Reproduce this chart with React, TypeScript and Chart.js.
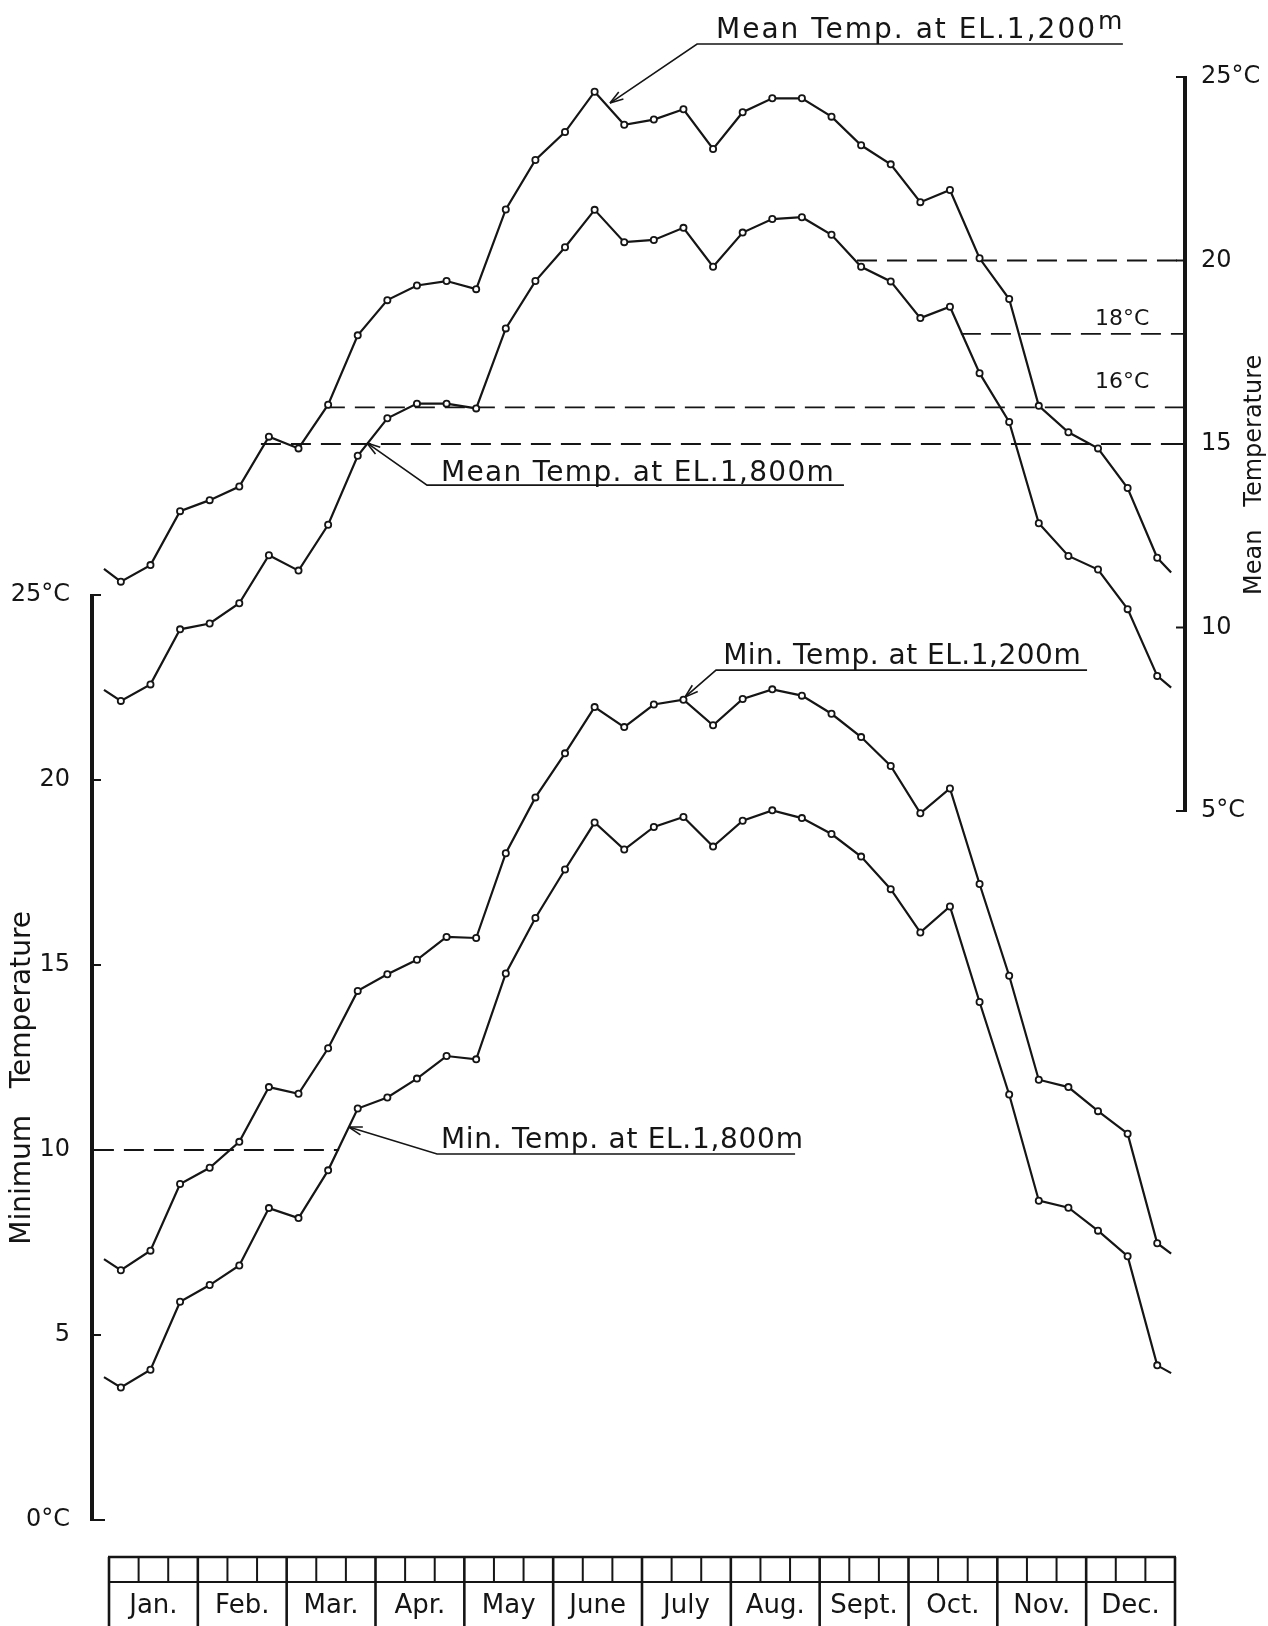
import React, { useEffect, useRef } from 'react';
import { Chart, registerables } from 'chart.js';

Chart.register(...registerables);

// ---------- data ----------
const MONTHS = ['Jan.', 'Feb.', 'Mar.', 'Apr.', 'May', 'June', 'July', 'Aug.', 'Sept.', 'Oct.', 'Nov.', 'Dec.'];

// 36 dekad (10-day) values, Jan. 1st dekad ... Dec. 3rd dekad
const MEAN_1200 = [
  11.25, 11.7, 13.17, 13.47, 13.84, 15.2, 14.88, 16.07, 17.96, 18.92, 19.32, 19.44,
  19.22, 21.39, 22.74, 23.5, 24.6, 23.7, 23.84, 24.12, 23.04, 24.04, 24.42, 24.42,
  23.92, 23.14, 22.62, 21.59, 21.92, 20.06, 18.95, 16.04, 15.32, 14.88, 13.8, 11.9,
];
const MEAN_1800 = [
  8.0, 8.45, 9.95, 10.11, 10.66, 11.97, 11.55, 12.8, 14.68, 15.7, 16.1, 16.1,
  15.97, 18.15, 19.44, 20.36, 21.38, 20.5, 20.56, 20.89, 19.83, 20.76, 21.13, 21.18,
  20.7, 19.83, 19.43, 18.43, 18.74, 16.93, 15.6, 12.84, 11.95, 11.58, 10.5, 8.68,
];
const MIN_1200 = [
  6.75, 7.28, 9.08, 9.52, 10.22, 11.7, 11.52, 12.75, 14.3, 14.75, 15.14, 15.76,
  15.73, 18.02, 19.53, 20.72, 21.97, 21.43, 22.04, 22.17, 21.48, 22.19, 22.45, 22.28,
  21.79, 21.16, 20.38, 19.1, 19.77, 17.19, 14.71, 11.9, 11.7, 11.05, 10.44, 7.48,
];
const MIN_1800 = [
  3.58, 4.06, 5.9, 6.35, 6.88, 8.43, 8.16, 9.45, 11.12, 11.42, 11.93, 12.54,
  12.45, 14.77, 16.27, 17.58, 18.85, 18.12, 18.73, 19.0, 18.2, 18.9, 19.18, 18.97,
  18.54, 17.93, 17.05, 15.88, 16.58, 14.0, 11.5, 8.63, 8.44, 7.82, 7.13, 4.18,
];
// continuation stubs (previous Dec. / following Jan.) : [start, end]
const MEAN_1200_EDGES = [11.6, 11.5];
const MEAN_1800_EDGES = [8.3, 8.36];
const MIN_1200_EDGES = [7.05, 7.2];
const MIN_1800_EDGES = [3.86, 3.97];
const STUB_X = [-0.17, 35.87];

const MIN_TICKS = [0, 5, 10, 15, 20, 25];
const MEAN_TICKS = [5, 10, 15, 20, 25];

// dashed reference levels (mean axis) and the dekad where each dashed line starts
const MEAN_REF_LEVELS = [20, 18, 16, 15];
const MEAN_REF_FROM = [25.26, 28.77, 7.29, 5.13];
const MIN_REF_LEVEL = 10;
const MIN_REF_SPAN = [-0.51, 7.77];

// ---------- layout ----------
const W = 1268;
const H = 1626;
const CHART_LEFT = 92;
const CHART_RIGHT = 1185;
const CHART_TOP = 77;
const CHART_BOTTOM = 1520;
const TABLE_LEFT = 109;
const PX_PER_DEKAD = 29.611;
const X_MIN = (CHART_LEFT - TABLE_LEFT) / PX_PER_DEKAD;
const X_MAX = 36 + (CHART_RIGHT - (TABLE_LEFT + 36 * PX_PER_DEKAD)) / PX_PER_DEKAD;
const MIN_PX_PER_DEG = 37.0;
const MEAN_PX_PER_DEG = 36.7;
const Y_MIN_MAX = (CHART_BOTTOM - CHART_TOP) / MIN_PX_PER_DEG;
const Y_MEAN_MIN = 25 - (CHART_BOTTOM - CHART_TOP) / MEAN_PX_PER_DEG;

const INK = '#151515';
const FONT = '"DejaVu Sans", "Liberation Sans", sans-serif';

const ANNOTATIONS = [
  { text: 'Mean Temp. at EL.1,200', sup: 'm', spacing: 2, axis: 'yMean', tx: 20.5, ty: 26.06, ux0: 19.86, ux1: 34.24, uy: 25.9, px: 16.92, py: 24.29 },
  { text: 'Mean Temp. at EL.1,800m', sup: '', spacing: 1.3, axis: 'yMean', tx: 11.21, ty: 13.99, ux0: 10.74, ux1: 24.82, uy: 13.88, px: 8.71, py: 15.03 },
  { text: 'Min. Temp. at EL.1,200m', sup: '', spacing: 0.5, axis: 'yMin', tx: 20.74, ty: 23.14, ux0: 20.5, ux1: 33.03, uy: 22.97, px: 19.45, py: 22.24 },
  { text: 'Min. Temp. at EL.1,800m', sup: '', spacing: 0.7, axis: 'yMin', tx: 11.21, ty: 10.05, ux0: 11.08, ux1: 23.17, uy: 9.89, px: 8.1, py: 10.62 },
];
const LEVEL_LABELS = [
  { text: '18°C', x: 33.3, y: 18.24 },
  { text: '16°C', x: 33.3, y: 16.53 },
];

function buildSeries(vals: number[], edges: number[]) {
  return [
    { x: STUB_X[0], y: edges[0] },
    ...vals.map((v, i) => ({ x: i + 0.4, y: v })),
    { x: STUB_X[1], y: edges[1] },
  ];
}

function seriesDataset(vals: number[], edges: number[], yAxisID: string) {
  const last = vals.length + 1;
  return {
    data: buildSeries(vals, edges),
    yAxisID,
    borderColor: INK,
    borderWidth: 2.2,
    tension: 0,
    pointRadius: (c: any) => (c.dataIndex === 0 || c.dataIndex === last ? 0 : 3.1),
    pointHoverRadius: 0,
    pointBackgroundColor: '#ffffff',
    pointBorderColor: INK,
    pointBorderWidth: 1.8,
  };
}

function dashed(x0: number, x1: number, level: number, yAxisID: string) {
  return {
    data: [{ x: x0, y: level }, { x: x1, y: level }],
    yAxisID,
    borderColor: INK,
    borderWidth: 1.8,
    borderDash: [20, 10],
    pointRadius: 0,
    pointHoverRadius: 0,
  };
}

function strokeLine(ctx: CanvasRenderingContext2D, x0: number, y0: number, x1: number, y1: number) {
  ctx.beginPath();
  ctx.moveTo(x0, y0);
  ctx.lineTo(x1, y1);
  ctx.stroke();
}

const overlayPlugin = {
  id: 'overlay',
  afterDraw(chart: any) {
    const { ctx, scales, chartArea } = chart;
    const xs = scales.x;
    const yL = scales.yMin;
    const yR = scales.yMean;
    ctx.save();
    ctx.strokeStyle = INK;
    ctx.fillStyle = INK;
    ctx.lineCap = 'butt';

    // left axis (Minimum temperature) 0..25
    const lx = chartArea.left;
    ctx.lineWidth = 4;
    strokeLine(ctx, lx, yL.getPixelForValue(0) + 1, lx, yL.getPixelForValue(25) - 1);
    ctx.lineWidth = 2;
    MIN_TICKS.forEach((v) => {
      const p = yL.getPixelForValue(v);
      strokeLine(ctx, lx, p, lx + (v === 0 ? 13 : 9), p);
    });

    // right axis (Mean temperature) 5..25
    const rx = chartArea.right;
    ctx.lineWidth = 4;
    strokeLine(ctx, rx, yR.getPixelForValue(5) + 1, rx, yR.getPixelForValue(25) - 1);
    ctx.lineWidth = 2;
    MEAN_TICKS.forEach((v) => {
      const p = yR.getPixelForValue(v);
      strokeLine(ctx, rx - 9, p, rx, p);
    });

    // axis titles
    ctx.textAlign = 'center';
    ctx.textBaseline = 'middle';
    ctx.save();
    ctx.translate(23, yL.getPixelForValue(11.95));
    ctx.rotate(-Math.PI / 2);
    ctx.font = `28px ${FONT}`;
    ctx.fillText('Minimum   Temperature', 0, 0);
    ctx.restore();
    ctx.save();
    ctx.translate(1255, yR.getPixelForValue(14.16));
    ctx.rotate(-Math.PI / 2);
    ctx.font = `24px ${FONT}`;
    ctx.fillText('Mean   Temperature', 0, 0);
    ctx.restore();

    // level labels
    ctx.textAlign = 'left';
    ctx.textBaseline = 'alphabetic';
    ctx.font = `22px ${FONT}`;
    LEVEL_LABELS.forEach((l) => {
      ctx.fillText(l.text, xs.getPixelForValue(l.x), yR.getPixelForValue(l.y));
    });

    // annotations
    ANNOTATIONS.forEach((a) => {
      const ys = a.axis === 'yMean' ? yR : yL;
      const tx = xs.getPixelForValue(a.tx);
      const ty = ys.getPixelForValue(a.ty);
      ctx.font = `28px ${FONT}`;
      ctx.textAlign = 'left';
      (ctx as any).letterSpacing = `${a.spacing}px`;
      ctx.fillText(a.text, tx, ty);
      if (a.sup) {
        const w = ctx.measureText(a.text).width;
        ctx.font = `25px ${FONT}`;
        ctx.fillText(a.sup, tx + w + 1, ty - 9);
      }
      (ctx as any).letterSpacing = '0px';
      const ux0 = xs.getPixelForValue(a.ux0);
      const ux1 = xs.getPixelForValue(a.ux1);
      const uy = ys.getPixelForValue(a.uy);
      const px = xs.getPixelForValue(a.px);
      const py = ys.getPixelForValue(a.py);
      ctx.lineWidth = 1.6;
      ctx.beginPath();
      ctx.moveTo(ux1, uy);
      ctx.lineTo(ux0, uy);
      ctx.lineTo(px, py);
      ctx.stroke();
      const ang = Math.atan2(py - uy, px - ux0);
      const len = 14;
      [0.3, -0.3].forEach((d) => {
        strokeLine(ctx, px, py, px - len * Math.cos(ang + d), py - len * Math.sin(ang + d));
      });
    });

    // month table
    const tTop = 1557;
    const tMid = 1582;
    const tBot = H + 10;
    const x0 = xs.getPixelForValue(0);
    const x36 = xs.getPixelForValue(36);
    ctx.lineWidth = 2.6;
    strokeLine(ctx, x0 - 1, tTop, x36 + 1, tTop);
    ctx.lineWidth = 2;
    strokeLine(ctx, x0, tMid, x36, tMid);
    for (let m = 0; m <= 12; m++) {
      const p = xs.getPixelForValue(m * 3);
      ctx.lineWidth = 2.6;
      strokeLine(ctx, p, tTop, p, tBot);
      if (m < 12) {
        ctx.lineWidth = 2;
        strokeLine(ctx, xs.getPixelForValue(m * 3 + 1), tTop, xs.getPixelForValue(m * 3 + 1), tMid);
        strokeLine(ctx, xs.getPixelForValue(m * 3 + 2), tTop, xs.getPixelForValue(m * 3 + 2), tMid);
      }
    }
    ctx.font = `26px ${FONT}`;
    ctx.textAlign = 'center';
    ctx.textBaseline = 'middle';
    MONTHS.forEach((name, m) => {
      const c = (xs.getPixelForValue(m * 3) + xs.getPixelForValue(m * 3 + 3)) / 2;
      ctx.fillText(name, c, 1606);
    });

    ctx.restore();
  },
};

export default function App() {
  const canvasRef = useRef<HTMLCanvasElement | null>(null);

  useEffect(() => {
    const canvas = canvasRef.current;
    if (!canvas) return;

    const datasets: any[] = [
      seriesDataset(MEAN_1200, MEAN_1200_EDGES, 'yMean'),
      seriesDataset(MEAN_1800, MEAN_1800_EDGES, 'yMean'),
      seriesDataset(MIN_1200, MIN_1200_EDGES, 'yMin'),
      seriesDataset(MIN_1800, MIN_1800_EDGES, 'yMin'),
      ...MEAN_REF_LEVELS.map((lvl, k) => dashed(MEAN_REF_FROM[k], X_MAX, lvl, 'yMean')),
      dashed(MIN_REF_SPAN[0], MIN_REF_SPAN[1], MIN_REF_LEVEL, 'yMin'),
    ];

    const tickFont = { family: FONT, size: 24 };

    const chart = new Chart(canvas, {
      type: 'line',
      data: { datasets },
      options: {
        animation: false,
        responsive: false,
        devicePixelRatio: 1,
        events: [],
        layout: { padding: { top: CHART_TOP, bottom: H - CHART_BOTTOM, left: 0, right: 0 } },
        plugins: { legend: { display: false }, tooltip: { enabled: false } },
        scales: {
          x: { type: 'linear', min: X_MIN, max: X_MAX, display: false },
          yMin: {
            type: 'linear',
            position: 'left',
            min: 0,
            max: Y_MIN_MAX,
            grid: { display: false },
            border: { display: false },
            afterBuildTicks: (s: any) => {
              s.ticks = MIN_TICKS.map((v) => ({ value: v }));
            },
            afterFit: (s: any) => {
              s.width = CHART_LEFT;
            },
            ticks: {
              autoSkip: false,
              padding: 14,
              color: INK,
              font: tickFont,
              callback: (v: any) => (v === 0 || v === 25 ? `${v}°C` : `${v}`),
            },
          },
          yMean: {
            type: 'linear',
            position: 'right',
            min: Y_MEAN_MIN,
            max: 25,
            grid: { display: false },
            border: { display: false },
            afterBuildTicks: (s: any) => {
              s.ticks = MEAN_TICKS.map((v) => ({ value: v }));
            },
            afterFit: (s: any) => {
              s.width = W - CHART_RIGHT;
            },
            ticks: {
              autoSkip: false,
              padding: 8,
              color: INK,
              font: tickFont,
              callback: (v: any) => (v === 5 || v === 25 ? `${v}°C` : `${v}`),
            },
          },
        },
      } as any,
      plugins: [overlayPlugin],
    });

    return () => chart.destroy();
  }, []);

  return (
    <div style={{ position: 'absolute', left: 0, top: 0, width: W, height: H, overflow: 'hidden', background: '#fff' }}>
      <canvas ref={canvasRef} width={W} height={H} style={{ display: 'block' }} />
    </div>
  );
}
